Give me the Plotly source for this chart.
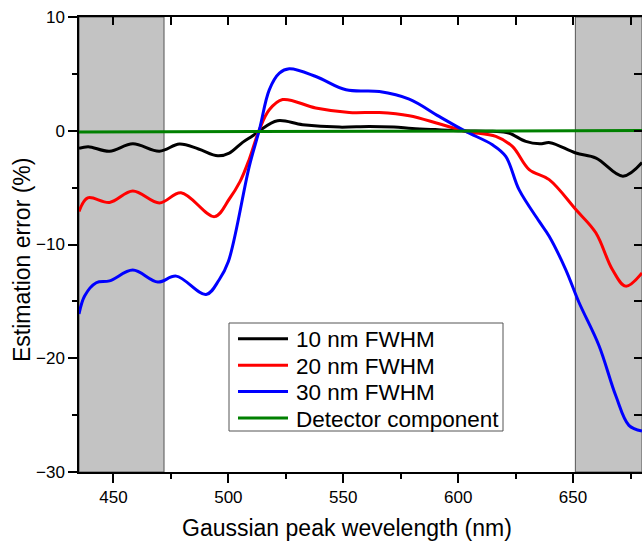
import plotly.graph_objects as go

# ---------------- data ----------------
wl_10 = [435, 439, 448.3, 458.4, 470, 478.7, 487, 495.4, 500.4, 506.2, 510.6, 513.5, 521.4, 532.3, 548.3,
         561.3, 572, 580, 590, 601.7, 615, 622, 629.4, 635.5, 640, 651.2, 660, 671.7, 680]
err_10 = [-1.55, -1.4, -1.8, -1.15, -1.8, -1.17, -1.6, -2.2, -1.96, -1.02, -0.44, 0.0, 0.88, 0.53, 0.32,
          0.38, 0.32, 0.2, 0.1, 0.0, -0.05, -0.2, -0.94, -1.15, -1.05, -1.96, -2.4, -4.0, -2.8]

wl_20 = [435, 438.8, 448.3, 458.4, 470, 479.4, 494, 500.4, 505, 509.1, 513.5, 517.8, 523.6, 538, 552.6,
         565.7, 578.7, 591.7, 603.3, 616.4, 623.6, 630.9, 639.6, 651.2, 659.9, 667.1, 672.9, 680]
err_20 = [-7.1, -5.9, -6.3, -5.3, -6.35, -5.45, -7.55, -6.0, -4.5, -2.5, 0.1, 1.84, 2.74, 2.0, 1.6,
          1.6, 1.32, 0.61, -0.06, -0.5, -1.38, -3.42, -4.3, -6.93, -8.97, -12.2, -13.66, -12.5]

wl_30 = [435, 437.5, 442.5, 448.3, 458.4, 469.3, 477.3, 490.3, 496, 500, 509.1, 513.5, 517.8, 522.2,
         526.5, 538.1, 551.2, 565.7, 578.7, 591.7, 603.3, 614.9, 620.7, 626.5, 635.2, 639.6, 646.8,
         652.6, 661.3, 668.6, 674.3, 680]
err_30 = [-16.1, -14.5, -13.36, -13.2, -12.25, -13.3, -12.78, -14.4, -13.1, -11.5, -3.13, 0.09, 3.6, 5.06,
          5.44, 4.77, 3.6, 3.45, 2.78, 1.26, -0.06, -1.23, -2.25, -5.18, -7.95, -9.27, -12.2,
          -15.1, -18.9, -23.3, -25.9, -26.4]

wl_det = [435, 680]
err_det = [-0.12, 0.02]

series_names = ["10 nm FWHM", "20 nm FWHM", "30 nm FWHM", "Detector component"]
series_colors = ["#000000", "#ff0000", "#0000ff", "#008000"]

x_range = [435, 680]
y_range = [-30, 10]
x_ticks = [450, 500, 550, 600, 650]
y_ticks = [-30, -20, -10, 0, 10]
shade_regions = [(435, 472), (651, 680)]

x_title = "Gaussian peak wevelength (nm)"
y_title = "Estimation error (%)"

# ---------------- layout geometry (window pixels; body margin removed) ----------------
W, H = 642, 541
PLOT_X0, PLOT_X1, PLOT_Y0, PLOT_Y1 = 79, 642, 17, 472
L, T = PLOT_X0, PLOT_Y0
R, B = W - PLOT_X1, H - PLOT_Y1
PW, PH = PLOT_X1 - PLOT_X0, PLOT_Y1 - PLOT_Y0
FONT = "Liberation Sans, Arial, Helvetica, sans-serif"


def px_x(p):
    return (p - PLOT_X0) / PW


def px_y(p):
    return (PLOT_Y1 - p) / PH


fig = go.Figure()

xs = [wl_10, wl_20, wl_30, wl_det]
ys = [err_10, err_20, err_30, err_det]
for x, y, name, col in zip(xs, ys, series_names, series_colors):
    fig.add_trace(go.Scatter(x=x, y=y, name=name, mode="lines",
                             line=dict(color=col, width=3, shape="spline", smoothing=1.0),
                             showlegend=False, hoverinfo="skip"))

# helper trace so the mirrored (top/right) axes are drawn
fig.add_trace(go.Scatter(x=[None], y=[None], xaxis="x2", yaxis="y2", mode="lines",
                         showlegend=False, hoverinfo="skip"))

shapes = []
for a, b in shade_regions:
    shapes.append(dict(type="rect", xref="x", yref="paper", x0=a, x1=b, y0=0, y1=1,
                       fillcolor="#c3c3c3", line=dict(color="#555555", width=1), layer="below"))

# manual legend (box + line samples + text)
box = (229, 503, 323, 431)
shapes.append(dict(type="rect", xref="paper", yref="paper",
                   x0=px_x(box[0]), x1=px_x(box[1]), y0=px_y(box[3]), y1=px_y(box[2]),
                   fillcolor="white", line=dict(color="#555555", width=1), layer="above"))
row_y = [338.7, 365.3, 391.5, 418]
annotations = []
for ry, name, col in zip(row_y, series_names, series_colors):
    shapes.append(dict(type="line", xref="paper", yref="paper",
                       x0=px_x(238), x1=px_x(288), y0=px_y(ry), y1=px_y(ry),
                       line=dict(color=col, width=3), layer="above"))
    annotations.append(dict(xref="paper", yref="paper", x=px_x(294), y=px_y(ry + 1),
                            text=name, showarrow=False, xanchor="left", yanchor="middle",
                            font=dict(family=FONT, size=22.5, color="black")))

annotations.append(dict(xref="paper", yref="paper", x=px_x(347), y=px_y(528), text=x_title,
                        showarrow=False, xanchor="center", yanchor="middle",
                        font=dict(family=FONT, size=23, color="black")))
annotations.append(dict(xref="paper", yref="paper", x=px_x(22), y=px_y(260), text=y_title,
                        textangle=-90, showarrow=False, xanchor="center", yanchor="middle",
                        font=dict(family=FONT, size=23, color="black")))

axis_common = dict(showgrid=False, zeroline=False, showline=True, linecolor="black",
                   linewidth=1.5, tickcolor="black", tickwidth=1.5,
                   tickfont=dict(family=FONT, size=17, color="black"))

fig.update_layout(
    width=W, height=H,
    margin=dict(l=L, r=R, t=T, b=B, pad=0),
    paper_bgcolor="white", plot_bgcolor="white",
    font=dict(family=FONT, color="black"),
    shapes=shapes, annotations=annotations,
    xaxis=dict(range=x_range, tickvals=x_ticks, ticks="outside", ticklen=9,
               minor=dict(dtick=25, tick0=450, ticks="outside", ticklen=5, tickcolor="black", tickwidth=1.5),
               **axis_common),
    yaxis=dict(range=y_range, tickvals=y_ticks, ticks="outside", ticklen=9,
               minor=dict(dtick=5, tick0=0, ticks="outside", ticklen=5, tickcolor="black", tickwidth=1.5),
               **axis_common),
    xaxis2=dict(overlaying="x", side="top", range=x_range, dtick=25, tick0=450, ticks="inside",
                ticklen=8, showticklabels=False, anchor="y", **axis_common),
    yaxis2=dict(overlaying="y", side="right", range=y_range, dtick=5, tick0=0, ticks="inside",
                ticklen=8, showticklabels=False, anchor="x", **axis_common),
)

# remove the default 8 px page margin so the figure fills the 642x541 window exactly
fig.write_html("out.html", config={"displayModeBar": False},
               post_script="document.body.style.margin='0';document.body.style.overflow='hidden';")
